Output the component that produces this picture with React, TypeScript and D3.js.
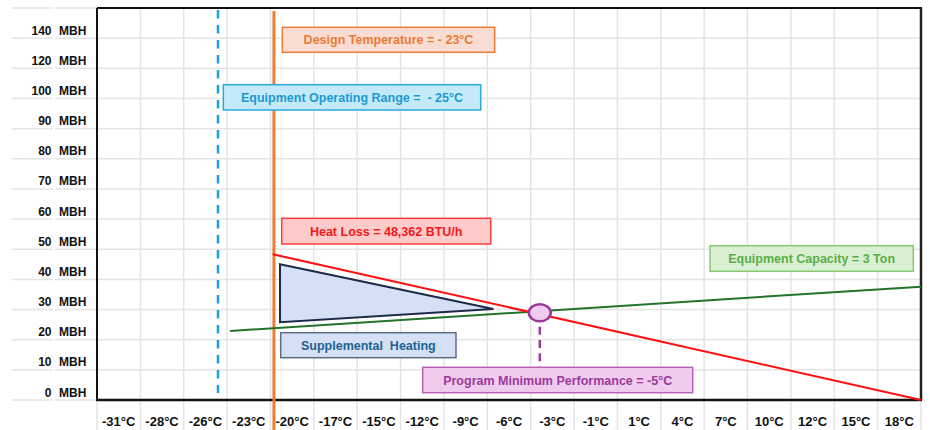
import React from 'react';
import * as d3 from 'd3';

// ---------- data ----------
const xLabels = ['-31°C', '-28°C', '-26°C', '-23°C', '-20°C', '-17°C', '-15°C', '-12°C', '-9°C', '-6°C', '-3°C', '-1°C', '1°C', '4°C', '7°C', '10°C', '12°C', '15°C', '18°C'];
const yTickValues = [0, 10, 20, 30, 40, 50, 60, 70, 80, 90, 100, 120, 140];
const yTickUnit = 'MBH';

// x in column units (0 = left edge of first column), y in MBH
const heatLossLine = [
  { x: 4.05, y: 48.362 },
  { x: 19, y: 0 },
];
const capacityLine = [
  { x: 3.07, y: 22.9 },
  { x: 19, y: 37.6 },
];
const supplementalArea = [
  { x: 4.22, y: 45.0 },
  { x: 4.22, y: 25.8 },
  { x: 9.14, y: 30.2 },
];
const balancePoint = { x: 10.21, y: 28.9 };
const balanceDrop = [
  { x: 10.21, y: 24.3 },
  { x: 10.21, y: 10.9 },
];
const designTempLine = [
  { x: 4.08, y: 158 },
  { x: 4.08, y: -10 },
];
const operatingRangeLine = [
  { x: 2.79, y: 158.6 },
  { x: 2.79, y: 2.3 },
];

const annotationTexts = [
  'Design Temperature = - 23°C',
  'Equipment Operating Range =  - 25°C',
  'Heat Loss = 48,362 BTU/h',
  'Supplemental  Heating',
  'Program Minimum Performance = -5°C',
  'Equipment Capacity = 3 Ton',
];

// ---------- layout ----------
const W = 930;
const H = 430;
const plotLeft = 97;
const plotRight = 921;
const plotTop = 8;
const plotBottom = 400;

const x = d3.scaleLinear().domain([0, xLabels.length]).range([plotLeft, plotRight]);
const y = d3.scaleLinear().domain([0, 100, 160]).range([plotBottom, 98.5, plotTop]);

const boxes = [
  { left: 282.3, top: 27.3, w: 212.4, h: 25, fill: '#f9ddd2', stroke: '#ed7d31', color: '#ec7a36' },
  { left: 223.3, top: 84.7, w: 257.4, h: 25.3, fill: '#c4eafa', stroke: '#2ea9dc', color: '#1a9ad2' },
  { left: 281.7, top: 218.3, w: 209, h: 25.7, fill: '#ffcaca', stroke: '#ff3c3c', color: '#ee1b1b' },
  { left: 280.7, top: 332.7, w: 175.3, h: 25, fill: '#d5e0f5', stroke: '#5d6d88', color: '#1f6391' },
  { left: 422.7, top: 367.3, w: 270, h: 25.4, fill: '#f1cbee', stroke: '#b961b5', color: '#9a3a9a' },
  { left: 710, top: 245.7, w: 203.3, h: 25.6, fill: '#d9f1d2', stroke: '#85c972', color: '#5aad46' },
];

const font = "'Liberation Sans', Arial, sans-serif";

type P = { x: number; y: number };

export default function App() {
  const line = d3
    .line<P>()
    .x((d) => x(d.x))
    .y((d) => y(d.y));
  const polyPath = d3
    .line<P>()
    .x((d) => x(d.x))
    .y((d) => y(d.y))
    .curve(d3.curveLinearClosed)(supplementalArea);

  const grid = '#e4e4e4';
  const colBounds = d3.range(xLabels.length + 1);

  return (
    <svg
      width={W}
      height={H}
      style={{ position: 'absolute', left: 0, top: 0, background: '#fff' }}
      fontFamily={font}
    >
      <rect x={0} y={0} width={W} height={H} fill="#fff" />
      {/* horizontal gridlines, including label area */}
      {[...yTickValues, 160].map((v) => (
        <g key={'h' + v}>
          <line x1={12} x2={53} y1={y(v)} y2={y(v)} stroke={grid} strokeWidth={1.5} />
          <line x1={55} x2={plotRight} y1={y(v)} y2={y(v)} stroke={grid} strokeWidth={1.5} />
        </g>
      ))}
      {/* vertical gridlines */}
      {colBounds.map((c) => (
        <line key={'v' + c} x1={x(c)} x2={x(c)} y1={plotTop} y2={H} stroke={grid} strokeWidth={1.5} />
      ))}

      {/* y labels */}
      {yTickValues.map((v) => (
        <g key={'yl' + v} fontSize={12} fontWeight="bold" fill="#111">
          <text x={51.5} y={y(v) - 3.5} textAnchor="end">
            {v}
          </text>
          <text x={59} y={y(v) - 3.5}>
            {yTickUnit}
          </text>
        </g>
      ))}
      {/* x labels */}
      {xLabels.map((l, i) => (
        <text
          key={'xl' + i}
          x={x(i + 0.5)}
          y={426}
          textAnchor="middle"
          fontSize={13}
          fontWeight="bold"
          fill="#111"
        >
          {l}
        </text>
      ))}

      {/* plot frame */}
      <line x1={plotLeft} x2={plotRight + 1} y1={plotTop} y2={plotTop} stroke="#111" strokeWidth={2} />
      <line x1={plotLeft} x2={plotLeft} y1={plotTop} y2={plotBottom} stroke="#111" strokeWidth={2} />
      <line x1={plotRight} x2={plotRight} y1={plotTop} y2={plotBottom} stroke="#222" strokeWidth={2.5} />
      <line x1={plotLeft - 1} x2={plotRight + 1} y1={plotBottom} y2={plotBottom} stroke="#111" strokeWidth={2.5} />

      {/* operating range dashed */}
      <path
        d={line(operatingRangeLine) || ''}
        stroke="#1ba2d9"
        strokeWidth={2.5}
        strokeDasharray="8.3 6.7"
        fill="none"
      />
      {/* design temperature */}
      <path d={line(designTempLine) || ''} stroke="#ed7d31" strokeWidth={3} fill="none" />

      {/* supplemental triangle */}
      <path d={polyPath || ''} fill="#d5e0f5" stroke="#1c2a48" strokeWidth={2} strokeLinejoin="miter" />

      {/* capacity and heat loss */}
      <path d={line(capacityLine) || ''} stroke="#23742a" strokeWidth={2} fill="none" />
      <path d={line(heatLossLine) || ''} stroke="#ff1010" strokeWidth={2} fill="none" />

      {/* balance point */}
      <path
        d={line(balanceDrop) || ''}
        stroke="#9a3a9a"
        strokeWidth={2.5}
        strokeDasharray="8 5.3"
        fill="none"
      />
      <ellipse
        cx={x(balancePoint.x)}
        cy={y(balancePoint.y)}
        rx={11}
        ry={8.5}
        fill="#f1cbee"
        stroke="#99399a"
        strokeWidth={2.5}
      />

      {/* annotation boxes */}
      {boxes.map((b, i) => (
        <g key={'b' + i}>
          <rect x={b.left} y={b.top} width={b.w} height={b.h} fill={b.fill} stroke={b.stroke} strokeWidth={1.5} />
          <text
            x={b.left + b.w / 2}
            y={b.top + b.h / 2 + 4.5}
            textAnchor="middle"
            fontSize={12.5}
            fontWeight="bold"
            fill={b.color}
            style={{ whiteSpace: 'pre' }}
          >
            {annotationTexts[i]}
          </text>
        </g>
      ))}
    </svg>
  );
}
